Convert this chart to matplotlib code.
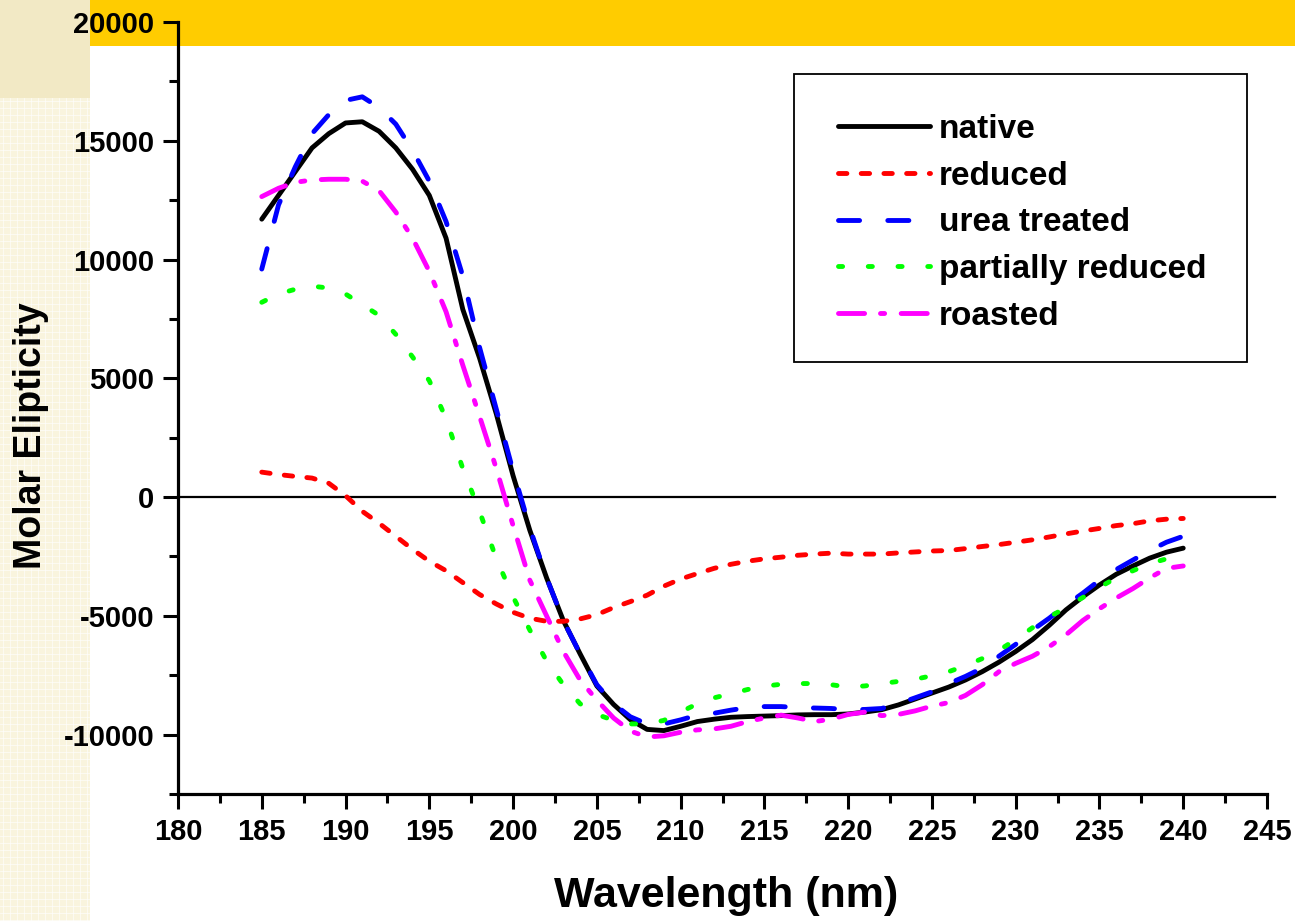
import matplotlib
matplotlib.use("Agg")
import matplotlib.pyplot as plt
from matplotlib.patches import Rectangle
import numpy as np

wavelength = list(range(185, 241))

native = [11700, 12700, 13700, 14700, 15300, 15750, 15800, 15400, 14700, 13800,
          12700, 10900, 7900, 5850, 3500, 900, -1400, -3400, -5200, -6600,
          -7950, -8730, -9370, -9780, -9830, -9650, -9450, -9350, -9270, -9240,
          -9220, -9200, -9170, -9160, -9160, -9130, -9050, -8950, -8750, -8500,
          -8250, -8000, -7700, -7350, -6950, -6500, -6000, -5400, -4750, -4200,
          -3700, -3250, -2900, -2570, -2320, -2150]

reduced = [1050, 950, 870, 800, 580, 60, -600, -1100, -1650, -2200,
           -2700, -3100, -3600, -4100, -4500, -4850, -5100, -5230, -5230, -5130,
           -4950, -4650, -4400, -4130, -3750, -3450, -3220, -3000, -2830, -2700,
           -2600, -2530, -2450, -2400, -2360, -2400, -2400, -2400, -2350, -2310,
           -2270, -2250, -2170, -2080, -2000, -1900, -1800, -1680, -1550, -1430,
           -1320, -1200, -1120, -1000, -930, -900]

urea = [9600, 12300, 13900, 15300, 16100, 16700, 16850, 16400, 15700, 14600,
        13300, 11600, 9300, 6300, 3700, 1100, -1300, -3400, -5200, -6600,
        -7900, -8700, -9250, -9550, -9550, -9380, -9180, -9100, -8970, -8860,
        -8820, -8820, -8860, -8880, -8900, -8950, -8940, -8900, -8700, -8450,
        -8200, -7850, -7550, -7200, -6700, -6200, -5600, -5100, -4550, -4050,
        -3500, -3050, -2650, -2250, -1900, -1650]

partial = [8200, 8550, 8750, 8880, 8800, 8550, 8100, 7650, 6850, 5900,
           4900, 3300, 1200, -600, -2600, -4200, -5600, -6900, -7900, -8700,
           -9150, -9400, -9550, -9550, -9400, -9050, -8700, -8450, -8280, -8100,
           -7960, -7880, -7850, -7850, -7900, -8000, -7950, -7850, -7760, -7670,
           -7520, -7350, -7100, -6800, -6450, -6000, -5500, -5050, -4650, -4230,
           -3800, -3400, -3100, -2800, -2600, -2450]

roasted = [12650, 13000, 13250, 13350, 13380, 13380, 13300, 12900, 12000, 10900,
           9500, 7800, 5550, 3400, 1200, -1200, -3500, -5000, -6500, -7700,
           -8550, -9300, -9850, -10100, -10050, -9900, -9800, -9760, -9650, -9450,
           -9300, -9180, -9300, -9450, -9350, -9150, -9050, -9200, -9150, -9000,
           -8800, -8650, -8350, -7900, -7350, -7000, -6700, -6300, -5800, -5200,
           -4700, -4250, -3850, -3400, -3000, -2900]

labels = ["native", "reduced", "urea treated", "partially reduced", "roasted"]
x_ticks = list(range(180, 246, 5))
y_ticks = list(range(-10000, 20001, 5000))

plt.rcParams['font.family'] = ['Liberation Sans', 'DejaVu Sans']
plt.rcParams['font.weight'] = 'bold'
plt.rcParams['axes.unicode_minus'] = False

W, H = 1295, 921
fig = plt.figure(figsize=(W / 100, H / 100), dpi=100)
fig.patch.set_facecolor('white')

# background decorations (behind everything)
bg = fig.add_axes([0, 0, 1, 1], zorder=-10)
bg.set_xlim(0, W)
bg.set_ylim(H, 0)
bg.axis('off')
bg.add_patch(Rectangle((0, 0), 90, H, facecolor='#F9F4DE', edgecolor='none'))
for gx in np.arange(3, 90, 7):
    bg.plot([gx, gx], [98, H], color='white', lw=0.6, alpha=0.7)
for gy in np.arange(101, H, 7):
    bg.plot([0, 90], [gy, gy], color='white', lw=0.6, alpha=0.7)
bg.add_patch(Rectangle((0, 0), 90, 98, facecolor='#F2E9C5', edgecolor='none'))
bg.add_patch(Rectangle((90, 0), W - 90, 46, facecolor='#FFCC00', edgecolor='none'))
# legend frame
bg.add_patch(Rectangle((794, 74), 1247 - 794, 362 - 74, facecolor='white',
                       edgecolor='black', lw=1.3))

ax = fig.add_axes([178 / W, 1 - 794 / H, (1267 - 178) / W, (794 - 22) / H], zorder=1)
ax.patch.set_alpha(0)

lw = 3.5
ax.plot(wavelength, native, color='black', lw=lw, linestyle='-', label=labels[0],
        solid_capstyle='round', solid_joinstyle='round')
ax.plot(wavelength, reduced, color='#FF0000', lw=lw, linestyle=(0, (1.73, 2.94)),
        label=labels[1], dash_capstyle='round')
ax.plot(wavelength, urea, color='#0000FF', lw=lw, linestyle=(0, (4.34, 5.8)),
        label=labels[2], dash_capstyle='round')
ax.plot(wavelength, partial, color='#00FF00', lw=lw, linestyle=(0, (0.85, 5.27)),
        label=labels[3], dash_capstyle='round')
ax.plot(wavelength, roasted, color='#FF00FF', lw=lw, linestyle=(0, (5.37, 3.27, 0.85, 3.4)),
        label=labels[4], dash_capstyle='round')

ax.axhline(0, xmin=0, xmax=1.007, color='black', lw=1.6, clip_on=False, zorder=1)

ax.set_xlim(180, 245)
ax.set_ylim(-12500, 20000)
ax.set_xticks(x_ticks)
ax.set_yticks(y_ticks)
ax.set_xticks(np.arange(182.5, 245, 5), minor=True)
ax.set_yticks(np.arange(-12500, 20001, 5000), minor=True)
ax.spines['top'].set_visible(False)
ax.spines['right'].set_visible(False)
for s in ['left', 'bottom']:
    ax.spines[s].set_linewidth(2.3)
ax.tick_params(which='major', direction='out', length=11, width=2.2, labelsize=21, pad=6)
ax.tick_params(which='minor', direction='out', length=6.5, width=2.2)
for lab in ax.get_xticklabels() + ax.get_yticklabels():
    lab.set_fontweight('bold')

fig.text(726 / W, 1 - 896 / H, "Wavelength (nm)", fontsize=31, fontweight='bold',
         ha='center', va='center')
fig.text(31 / W, 1 - 436 / H, "Molar Elipticity", fontsize=27, fontweight='bold',
         ha='center', va='center', rotation=90)

leg = ax.legend(loc='upper left', bbox_to_anchor=(838 / W, 1 - 114 / H),
                bbox_transform=fig.transFigure,
                prop={'size': 24, 'weight': 'bold'}, frameon=False,
                borderpad=0, labelspacing=0.47,
                handlelength=2.75, handletextpad=0.27, borderaxespad=0)

fig.savefig("out.png", dpi=100)
